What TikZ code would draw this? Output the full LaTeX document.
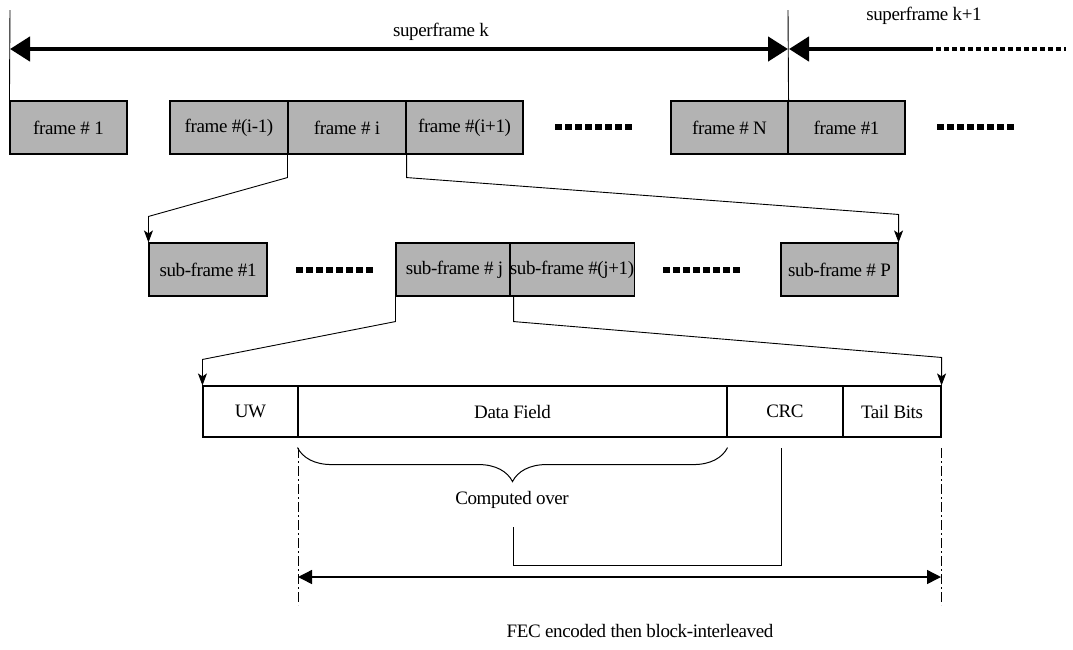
\documentclass[tikz,border=0pt]{standalone}
\usepackage{fontspec}
\setmainfont{Liberation Serif}[LetterSpace=-2.0]
\usetikzlibrary{arrows.meta,decorations.pathreplacing,calc}
\definecolor{boxgray}{RGB}{179,179,179}
\begin{document}
\begin{tikzpicture}[x=1pt,y=-1pt,
  txt/.style={font=\fontsize{19}{22}\selectfont, inner sep=0pt},
  gbox/.style={draw, line width=1.1pt, fill=boxgray, minimum height=53pt, inner sep=0pt, txt},
  wbox/.style={draw, line width=1.1pt, fill=white, minimum height=51pt, inner sep=0pt, txt},
  bigdots/.style={line width=6pt, dash pattern=on 7pt off 3pt},
  thinline/.style={line width=0.9pt},
  conn/.style={line width=0.9pt, -{Stealth[length=12pt,width=9pt,inset=3pt]}},
  bigarrow/.style={line width=4.5pt},
  bigtip/.tip={Triangle[length=20pt,width=24pt]},
  dashdot/.style={line width=0.8pt, dash pattern=on 10pt off 3pt on 2pt off 3pt},
]
\useasboundingbox[fill=white] (0,0) rectangle (1073,649);

% frame row
\node[gbox, minimum width=117pt] (f1)   at (68.5,127.5) {frame \# 1};
\node[gbox, minimum width=118pt] (fim1) at (229,127.5)  {frame \#(i-1)};
\node[gbox, minimum width=118pt] (fi)   at (347,127.5)  {frame \# i};
\node[gbox, minimum width=117pt] (fip1) at (464.5,127.5){frame \#(i+1)};
\node[gbox, minimum width=117pt] (fN)   at (729.5,127.5){frame \# N};
\node[gbox, minimum width=117pt] (f1b)  at (846.5,127.5){frame \#1};

% sub-frame row
\node[gbox, minimum width=118pt] (s1)  at (208,269.5)   {sub-frame \#1};
\node[gbox, minimum width=117pt] (sj)  at (454.5,269.5) {sub-frame \# j};
\node[gbox, minimum width=118pt] (sj1) at (572,269.5)   {sub-frame \#(j+1)};
\node[gbox, minimum width=117pt] (sP)  at (839.5,269.5) {sub-frame \# P};

% field row
\node[wbox, minimum width=95pt]  (uw)  at (250.5,411.5) {UW};
\node[wbox, minimum width=429pt] (df)  at (512.5,411.5) {Data Field};
\node[wbox, minimum width=116pt] (crc) at (785,411.5)   {CRC};
\node[wbox, minimum width=98pt]  (tb)  at (892,411.5)   {Tail Bits};

% superframe boundaries and arrows
\coordinate (t0) at (10,10);
\coordinate (t1) at (788,10);
\draw[thinline] (t0) -- (f1.north west);
\draw[thinline] (t1) -- (fN.north east);
\coordinate (a0) at (10,49);
\coordinate (a1) at (788,49);
\draw[bigarrow, bigtip-bigtip] (a0) -- (a1);
\coordinate (b0) at (789,49);
\coordinate (b1) at (928,49);
\coordinate (b2) at (1066,49);
\draw[bigarrow, bigtip-] (b0) -- (b1);
\draw[bigarrow, dash pattern=on 5pt off 3pt] (b1) -- (b2);
\node[txt] (sk)  at (441,32) {superframe k};
\node[txt] (sk1) at (924,16) {superframe k+1};

% dotted fillers
\coordinate (d1a) at (555,127);  \coordinate (d1b) at (632,127);
\coordinate (d2a) at (937,127);  \coordinate (d2b) at (1014,127);
\coordinate (d3a) at (296,270);  \coordinate (d3b) at (373,270);
\coordinate (d4a) at (663,270);  \coordinate (d4b) at (740,270);
\draw[bigdots] (d1a) -- (d1b);
\draw[bigdots] (d2a) -- (d2b);
\draw[bigdots] (d3a) -- (d3b);
\draw[bigdots] (d4a) -- (d4b);

% expansion connectors
\draw[conn] (fi.south west) -- ++(0,23) -- ($(s1.north west)+(0,-26)$) -- (s1.north west);
\draw[conn] (fi.south east) -- ++(0,23) -- ($(sP.north east)+(0,-28)$) -- (sP.north east);
\draw[conn] (sj.south west) -- ++(0,25) -- ($(uw.north west)+(0,-26)$) -- (uw.north west);
\draw[conn] (sj.south east) -- ++(0,25) -- ($(tb.north east)+(0,-28)$) -- (tb.north east);

% brace and CRC
\draw[line width=1pt, decorate, decoration={brace, amplitude=34pt, aspect=0.5}]
  (df.south east) ++(0,10) coordinate (br0) -- ($(df.south west)+(0,10)$) coordinate (br1);
\node[txt] (co) at (512,500) {Computed over};
\coordinate (c0) at (781,448);
\coordinate (c1) at (781,565);
\coordinate (c2) at (513,565);
\coordinate (c3) at (513,527);
\draw[thinline] (c0) -- (c1) -- (c2) -- (c3);

% FEC span
\coordinate (e0) at (298,448); \coordinate (e1) at (298,605);
\coordinate (e2) at (941,448); \coordinate (e3) at (941,605);
\draw[dashdot] (e0) -- (e1);
\draw[dashdot] (e2) -- (e3);
\coordinate (g0) at (298,577);
\coordinate (g1) at (941,577);
\draw[line width=1.4pt, {Triangle[length=14pt,width=14pt]}-{Triangle[length=14pt,width=14pt]}] (g0) -- (g1);
\node[txt] (fec) at (640,631) {FEC encoded then block-interleaved};
\end{tikzpicture}
\end{document}
